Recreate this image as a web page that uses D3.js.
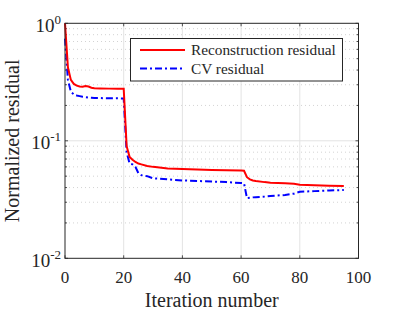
<!DOCTYPE html>
<html>
<head>
<meta charset="utf-8">
<script src="https://cdn.jsdelivr.net/npm/d3@7"></script>
<style>
  html, body { margin: 0; padding: 0; background: #fff; }
  svg text { font-family: "Liberation Serif", "Times New Roman", serif; fill: #262626; }
</style>
</head>
<body>
<div id="chart"></div>
<script>
const iters = [0, 1, 2, 3, 4, 5, 6, 7, 8, 9, 10, 12, 15, 18, 20, 21, 22, 23, 24, 25, 26, 28, 30, 35, 40, 45, 50, 55, 60, 61, 62, 63, 64, 65, 68, 70, 75, 78, 80, 85, 90, 95];
const reconResidual = [1.0, 0.42, 0.33, 0.305, 0.295, 0.29, 0.288, 0.293, 0.29, 0.283, 0.28, 0.279, 0.278, 0.278, 0.277,
  0.09, 0.073, 0.069, 0.066, 0.064, 0.063, 0.061, 0.06, 0.058, 0.0575, 0.057, 0.0565, 0.0562, 0.0558, 0.0556,
  0.049, 0.047, 0.046, 0.0455, 0.0445, 0.044, 0.0435, 0.043, 0.0422, 0.0418, 0.0414, 0.0412];
const cvResidual = [0.74, 0.33, 0.262, 0.248, 0.243, 0.24, 0.237, 0.235, 0.233, 0.232, 0.231, 0.231, 0.23, 0.23, 0.229,
  0.08, 0.064, 0.063, 0.06, 0.053, 0.051, 0.05, 0.048, 0.047, 0.046, 0.0455, 0.045, 0.0445, 0.0437, 0.0435,
  0.0325, 0.0327, 0.033, 0.0331, 0.0335, 0.0339, 0.0346, 0.0355, 0.0368, 0.0373, 0.0378, 0.0381];
const xTicks = [0, 20, 40, 60, 80, 100];
const yTicks = [1, 0.1, 0.01];
const yExps = ["0", "-1", "-2"];
const seriesNames = ["Reconstruction residual", "CV residual"];

const W = 396, H = 312;
const m = { left: 65, right: 358.5, top: 23.3, bottom: 258.3 };

const svg = d3.select("#chart").append("svg").attr("width", W).attr("height", H);

const x = d3.scaleLinear().domain([0, 100]).range([m.left, m.right]);
const y = d3.scaleLog().domain([0.01, 1]).range([m.bottom, m.top]);

// minor grid (dotted)
const minor = [];
[0.01, 0.1].forEach(dec => { for (let k = 2; k <= 9; k++) minor.push(dec * k); });
svg.append("g").selectAll("line").data(minor).enter().append("line")
  .attr("x1", m.left).attr("x2", m.right)
  .attr("y1", d => y(d)).attr("y2", d => y(d))
  .attr("stroke", "#c8c8c8").attr("stroke-width", 0.8).attr("stroke-dasharray", "1,3");

// major grid
svg.append("g").selectAll("line").data(xTicks.slice(1, -1)).enter().append("line")
  .attr("x1", d => x(d)).attr("x2", d => x(d))
  .attr("y1", m.top).attr("y2", m.bottom)
  .attr("stroke", "#e3e3e3").attr("stroke-width", 1);
svg.append("g").selectAll("line").data([0.1]).enter().append("line")
  .attr("x1", m.left).attr("x2", m.right)
  .attr("y1", d => y(d)).attr("y2", d => y(d))
  .attr("stroke", "#e3e3e3").attr("stroke-width", 1);

// tick marks inside on all sides
const tk = svg.append("g").attr("stroke", "#262626").attr("stroke-width", 0.8);
xTicks.forEach(t => {
  tk.append("line").attr("x1", x(t)).attr("x2", x(t)).attr("y1", m.bottom).attr("y2", m.bottom - 3);
  tk.append("line").attr("x1", x(t)).attr("x2", x(t)).attr("y1", m.top).attr("y2", m.top + 3);
});
yTicks.forEach(t => {
  tk.append("line").attr("x1", m.left).attr("x2", m.left + 3).attr("y1", y(t)).attr("y2", y(t));
  tk.append("line").attr("x1", m.right).attr("x2", m.right - 3).attr("y1", y(t)).attr("y2", y(t));
});
minor.forEach(t => {
  tk.append("line").attr("x1", m.left).attr("x2", m.left + 2).attr("y1", y(t)).attr("y2", y(t));
  tk.append("line").attr("x1", m.right).attr("x2", m.right - 2).attr("y1", y(t)).attr("y2", y(t));
});

// lines
const pts = vals => iters.map((it, i) => [it, vals[i]]);
const line = d3.line().x(d => x(d[0])).y(d => y(d[1]));

svg.append("path").datum(pts(cvResidual)).attr("d", line)
  .attr("fill", "none").attr("stroke", "#0000ff").attr("stroke-width", 2)
  .attr("stroke-dasharray", "7,3,2,3");
svg.append("path").datum(pts(reconResidual)).attr("d", line)
  .attr("fill", "none").attr("stroke", "#ff0000").attr("stroke-width", 2);

// box
svg.append("rect").attr("x", m.left).attr("y", m.top)
  .attr("width", m.right - m.left).attr("height", m.bottom - m.top)
  .attr("fill", "none").attr("stroke", "#262626").attr("stroke-width", 1);

// x tick labels
svg.append("g").selectAll("text").data(xTicks).enter().append("text")
  .attr("x", d => x(d)).attr("y", 283)
  .attr("text-anchor", "middle").attr("font-size", 17)
  .text(d => d);

// y tick labels 10^n
yTicks.forEach((t, i) => {
  const txt = svg.append("text").attr("x", 61).attr("y", y(t) + 8.5)
    .attr("text-anchor", "end").attr("font-size", 19);
  txt.append("tspan").text("10");
  txt.append("tspan").attr("font-size", 13).attr("dy", -8).text(yExps[i]);
});

// axis labels
svg.append("text").attr("x", (m.left + m.right) / 2).attr("y", 307)
  .attr("text-anchor", "middle").attr("font-size", 20).text("Iteration number");
svg.append("text").attr("transform", `translate(19,${(m.top + m.bottom) / 2}) rotate(-90)`)
  .attr("text-anchor", "middle").attr("font-size", 20).text("Normalized residual");

// legend
const lg = svg.append("g");
lg.append("rect").attr("x", 130.5).attr("y", 38.5).attr("width", 212).attr("height", 42.5)
  .attr("fill", "#fff").attr("stroke", "#262626").attr("stroke-width", 1);
const rows = [
  { name: seriesNames[0], color: "#ff0000", dash: null, yy: 50 },
  { name: seriesNames[1], color: "#0000ff", dash: "7,3,2,3", yy: 68.5 }
];
rows.forEach(r => {
  lg.append("line").attr("x1", 140).attr("x2", 185).attr("y1", r.yy).attr("y2", r.yy)
    .attr("stroke", r.color).attr("stroke-width", 2).attr("stroke-dasharray", r.dash);
  lg.append("text").attr("x", 191).attr("y", r.yy + 5).attr("font-size", 15.3).text(r.name);
});
</script>
</body>
</html>
